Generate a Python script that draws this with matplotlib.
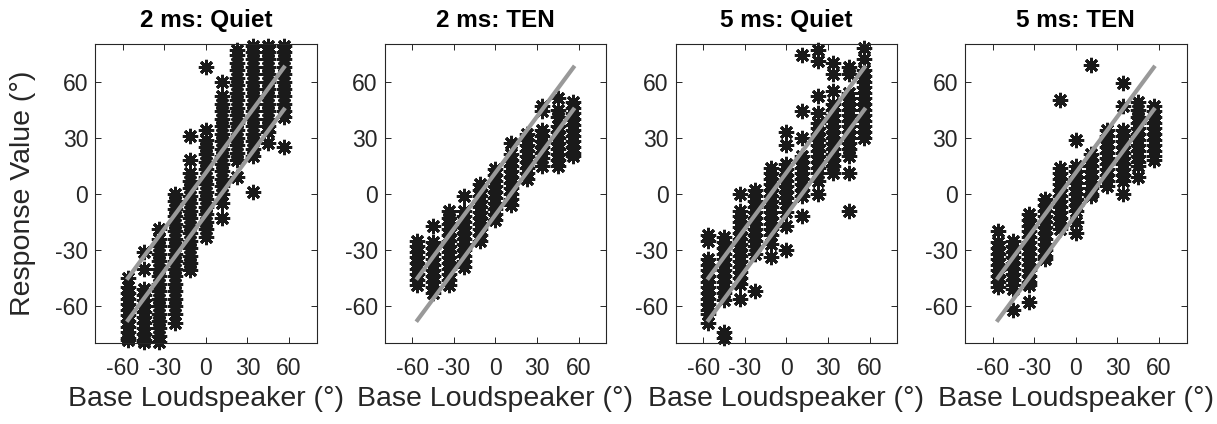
import numpy as np
import matplotlib
matplotlib.use("Agg")
from matplotlib import pyplot as plt

plt.rcParams['font.family'] = ['Liberation Sans', 'DejaVu Sans']
plt.rcParams['axes.unicode_minus'] = False

# loudspeaker positions (deg)
speakers = [-56.25, -45, -33.75, -22.5, -11.25, 0, 11.25, 22.5, 33.75, 45, 56.25]

# responses, one list per loudspeaker
quiet_2ms = [
    [-45, -50, -53, -56, -59, -62, -65, -68, -71, -74, -77, -78],
    [-31, -40, -51, -54, -57, -60, -63, -66, -69, -72, -75, -78, -79],
    [-19, -24, -28, -32, -36, -40, -44, -48, -52, -56, -60, -64, -68, -72, -76, -79],
    [0, -4, -8, -12, -16, -20, -24, -28, -32, -36, -40, -44, -48, -52, -56, -60, -64, -69],
    [31, 18, 11, 7, 3, -1, -5, -9, -13, -17, -21, -25, -29, -33, -37, -41],
    [68, 34, 29, 25, 21, 17, 13, 9, 5, 1, -3, -7, -11, -15, -19, -23],
    [60, 52, 48, 44, 40, 36, 32, 28, 24, 20, 16, 12, 8, 4, 0, -5, -13],
    [77, 74, 70, 66, 62, 58, 54, 50, 46, 42, 38, 34, 30, 26, 22, 18, 9],
    [79, 76, 72, 68, 64, 60, 56, 52, 48, 44, 40, 36, 32, 28, 24, 20, 1],
    [79, 76, 72, 68, 64, 60, 56, 52, 48, 44, 40, 36, 33, 27],
    [79, 76, 72, 68, 64, 60, 56, 52, 48, 44, 41, 25],
]
ten_2ms = [
    [-25, -28, -31, -34, -37, -40, -43, -46, -49],
    [-17, -26, -29, -32, -35, -38, -41, -44, -47, -50, -53],
    [-9, -13, -16, -19, -22, -25, -28, -31, -34, -37, -40, -43, -46, -49],
    [-1, -9, -12, -15, -18, -21, -24, -27, -30, -33, -36, -39],
    [5, 2, -1, -4, -7, -10, -13, -16, -19, -22, -25],
    [13, 10, 7, 4, 1, -2, -5, -8, -11, -14],
    [27, 21, 18, 15, 12, 9, 6, 3, 0, -3, -6],
    [32, 29, 26, 23, 20, 17, 14, 11, 8],
    [47, 44, 34, 31, 28, 25, 22, 19, 15],
    [51, 45, 41, 36, 33, 30, 27, 24, 21, 18, 15],
    [49, 46, 43, 40, 37, 34, 31, 28, 25, 22, 20],
]
quiet_5ms = [
    [-22, -25, -35, -38, -41, -44, -47, -50, -53, -56, -59, -62, -64, -69],
    [-23, -26, -29, -32, -35, -38, -41, -44, -47, -50, -53, -57, -74, -77],
    [0, -9, -12, -15, -18, -21, -24, -27, -30, -33, -36, -39, -42, -45, -48, -56],
    [2, -1, -4, -7, -10, -13, -16, -19, -22, -25, -28, -32, -52],
    [14, 11, 8, 5, 2, -1, -4, -7, -10, -13, -16, -19, -22, -27, -34],
    [33, 26, 16, 13, 10, 7, 4, 1, -2, -5, -10, -17, -30],
    [74, 44, 30, 20, 17, 14, 11, 8, 5, 2, -1, -12],
    [77, 71, 52, 43, 38, 35, 32, 29, 26, 23, 20, 17, 14, 11, 7, 0],
    [70, 64, 55, 48, 45, 42, 39, 36, 33, 30, 27, 24, 21, 18, 15, 11],
    [68, 64, 54, 51, 48, 45, 42, 39, 36, 33, 30, 27, 24, 20, 11, -9],
    [78, 72, 66, 63, 60, 57, 54, 51, 48, 45, 42, 39, 36, 33, 30],
]
ten_5ms = [
    [-20, -26, -29, -32, -35, -38, -41, -44, -47, -50],
    [-25, -28, -31, -34, -37, -40, -43, -46, -49, -51, -62],
    [-11, -14, -17, -20, -23, -26, -29, -32, -35, -38, -41, -44, -47, -49, -58],
    [-3, -6, -9, -12, -15, -18, -21, -24, -27, -30, -33, -35],
    [50, 14, 11, 8, 5, 2, -1, -4, -7, -10, -13, -16, -19],
    [29, 15, 12, 9, 6, 3, 0, -3, -6, -9, -15, -21],
    [69, 21, 18, 15, 12, 9, 6, 3, 0, -1],
    [34, 31, 28, 25, 22, 19, 16, 13, 10, 7, 4],
    [59, 47, 34, 31, 28, 25, 22, 19, 16, 13, 10, 7, 0],
    [49, 45, 41, 38, 35, 32, 29, 26, 23, 20, 17, 15, 9],
    [47, 44, 41, 38, 35, 32, 29, 26, 23, 20, 18],
]

titles = ["2 ms: Quiet", "2 ms: TEN", "5 ms: Quiet", "5 ms: TEN"]
panels = [quiet_2ms, ten_2ms, quiet_5ms, ten_5ms]
ticks = [-60, -30, 0, 30, 60]
half_width = 11.25  # gray guide lines at +/- this offset

fig = plt.figure(figsize=(12.17, 4.24), dpi=100)
lefts = [0.0781, 0.316, 0.5551, 0.7929]
txt = '#262626'

for i in range(4):
    ax = fig.add_axes([lefts[i], 0.190, 0.1822, 0.706])
    xs = []
    ys = []
    for spk, vals in zip(speakers, panels[i]):
        xs += [spk] * len(vals)
        ys += vals
    ax.plot(xs, ys, linestyle='none', marker=(8, 2, 0), markersize=11,
            markeredgewidth=2.1, color='#1a1a1a', clip_on=False, zorder=2)
    sx = np.array([speakers[0], speakers[-1]])
    ax.plot(sx, sx + half_width, color='#999999', lw=3, zorder=3)
    ax.plot(sx, sx - half_width, color='#999999', lw=3, zorder=3)
    ax.set_xlim(-80, 80)
    ax.set_ylim(-80, 80)
    ax.set_xticks(ticks)
    ax.set_yticks(ticks)
    ax.tick_params(direction='in', top=True, right=True, length=4, width=0.7,
                   color=txt, labelcolor=txt, labelsize=16.5)
    ax.tick_params(axis='x', pad=10)
    ax.tick_params(axis='y', pad=5)
    for s in ax.spines.values():
        s.set_color(txt)
        s.set_linewidth(0.8)
    ax.set_title(titles[i], fontsize=17.5, fontweight='bold', pad=12)
    ax.set_xlabel(u"Base Loudspeaker (\u00b0)", fontsize=20.5, color=txt, labelpad=4)
    if i == 0:
        ax.set_ylabel(u"Response Value (\u00b0)", fontsize=20.5, color=txt, labelpad=14)

fig.savefig("out.png", dpi=100)
